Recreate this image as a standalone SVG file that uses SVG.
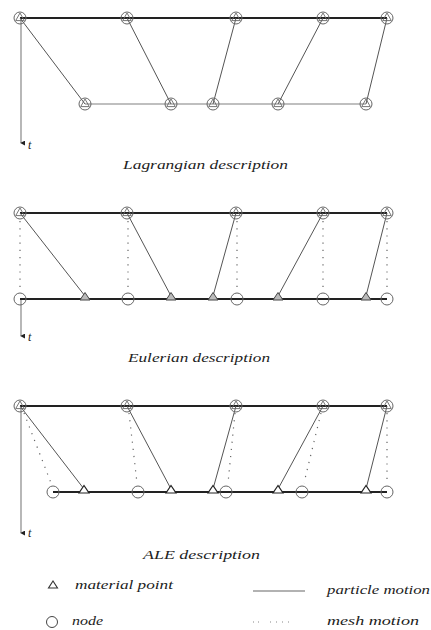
<svg xmlns="http://www.w3.org/2000/svg" width="431" height="630" viewBox="0 0 431 630">
<defs>
<style>
.bg{fill:#fff}
.top{stroke:#222;stroke-width:2;fill:none}
.botL{stroke:#aaa;stroke-width:1.6;fill:none}
.bot{stroke:#222;stroke-width:1.8;fill:none}
.pm{stroke:#555;stroke-width:1;fill:none}
.mm{stroke:#666;stroke-width:1.2;fill:none;stroke-dasharray:1.2 6}
.axis{stroke:#888;stroke-width:1.2;fill:none}
.nd{fill:none;stroke:#666;stroke-width:1}
.tri{fill:#fff;stroke:#222;stroke-width:1.2}
.trg{fill:#bbb;stroke:#444;stroke-width:1}
.lbl{font-family:"Liberation Serif",serif;font-style:italic;font-size:13px;fill:#222}
.t{font-family:"Liberation Serif",serif;font-style:italic;font-size:12px;fill:#222}
</style>
<marker id="ah" viewBox="0 0 6 6" refX="3" refY="5" markerWidth="5" markerHeight="5" orient="auto-start-reverse" markerUnits="userSpaceOnUse">
<path d="M0,0 L6,0 L3,6 z" fill="#222"/>
</marker>
<g id="cn">
<circle r="6" class="nd"/>
<path d="M0,-5 L4.3,2.6 L-4.3,2.6 z" fill="none" stroke="#666" stroke-width="0.9"/>
</g>
<path id="tr" d="M-5,1 L5,1 L0,-6.5 z"/>
</defs>
<rect class="bg" width="431" height="630"/>

<g id="connectors">
<!-- Lagrangian -->
<line class="axis" x1="21" y1="18" x2="21" y2="143" marker-end="url(#ah)"/>
<line class="top" x1="20" y1="18" x2="387" y2="18"/>
<line class="botL" x1="85" y1="104" x2="366" y2="104"/>
<line class="pm" x1="20" y1="18" x2="85" y2="104"/>
<line class="pm" x1="127" y1="18" x2="171" y2="104"/>
<line class="pm" x1="236" y1="18" x2="213" y2="104"/>
<line class="pm" x1="323" y1="18" x2="278" y2="104"/>
<line class="pm" x1="387" y1="18" x2="366" y2="104"/>

<!-- Eulerian -->
<line class="axis" x1="21" y1="299" x2="21" y2="336" marker-end="url(#ah)"/>
<line class="top" x1="20" y1="213" x2="387" y2="213"/>
<line class="bot" x1="20" y1="299" x2="387" y2="299"/>
<line class="mm" x1="20" y1="221" x2="20" y2="292"/>
<line class="mm" x1="128" y1="221" x2="128" y2="292"/>
<line class="mm" x1="237" y1="221" x2="237" y2="292"/>
<line class="mm" x1="323" y1="221" x2="323" y2="292"/>
<line class="mm" x1="387" y1="221" x2="387" y2="292"/>
<line class="pm" x1="20" y1="213" x2="85" y2="296"/>
<line class="pm" x1="127" y1="213" x2="171" y2="296"/>
<line class="pm" x1="236" y1="213" x2="213" y2="296"/>
<line class="pm" x1="323" y1="213" x2="278" y2="296"/>
<line class="pm" x1="387" y1="213" x2="366" y2="296"/>

<!-- ALE -->
<line class="axis" x1="21" y1="406" x2="21" y2="533" marker-end="url(#ah)"/>
<line class="top" x1="20" y1="406" x2="387" y2="406"/>
<line class="bot" x1="53" y1="492" x2="387" y2="492"/>
<line class="mm" x1="24" y1="413" x2="51" y2="483"/>
<line class="mm" x1="129" y1="413" x2="137" y2="483"/>
<line class="mm" x1="235" y1="413" x2="228" y2="483"/>
<line class="mm" x1="321" y1="413" x2="304" y2="483"/>
<line class="mm" x1="387" y1="413" x2="387" y2="483"/>
<line class="pm" x1="20" y1="406" x2="84" y2="489"/>
<line class="pm" x1="127" y1="406" x2="171" y2="489"/>
<line class="pm" x1="236" y1="406" x2="213" y2="489"/>
<line class="pm" x1="323" y1="406" x2="278" y2="489"/>
<line class="pm" x1="387" y1="406" x2="366" y2="489"/>

<!-- legend lines -->
<line x1="253" y1="591" x2="305" y2="591" stroke="#999" stroke-width="1.6"/>
<path d="M253,622h1M258,622h1M270,622h1M276,622h1M282,622h1M288,622h1" stroke="#888" stroke-width="1.2"/>
</g>

<g id="lag-top">
<use href="#cn" x="20" y="18"/><use href="#cn" x="127" y="18"/><use href="#cn" x="236" y="18"/><use href="#cn" x="323" y="18"/><use href="#cn" x="387" y="18"/>
</g>
<g id="lag-bottom">
<use href="#cn" x="85" y="104"/><use href="#cn" x="171" y="104"/><use href="#cn" x="213" y="104"/><use href="#cn" x="278" y="104"/><use href="#cn" x="366" y="104"/>
</g>

<g id="eul-top">
<use href="#cn" x="20" y="213"/><use href="#cn" x="127" y="213"/><use href="#cn" x="236" y="213"/><use href="#cn" x="323" y="213"/><use href="#cn" x="387" y="213"/>
</g>
<g id="eul-nodes">
<circle class="nd" cx="20" cy="299" r="6" stroke="#444"/>
<circle class="nd" cx="128" cy="299" r="6" stroke="#444"/>
<circle class="nd" cx="237" cy="299" r="6" stroke="#444"/>
<circle class="nd" cx="323" cy="299" r="6" stroke="#444"/>
<circle class="nd" cx="387" cy="299" r="6" stroke="#444"/>
</g>
<g id="eul-points">
<use href="#tr" class="trg" x="85" y="299"/><use href="#tr" class="trg" x="171" y="299"/><use href="#tr" class="trg" x="213" y="299"/><use href="#tr" class="trg" x="278" y="299"/><use href="#tr" class="trg" x="366" y="299"/>
</g>

<g id="ale-top">
<use href="#cn" x="20" y="406"/><use href="#cn" x="127" y="406"/><use href="#cn" x="236" y="406"/><use href="#cn" x="323" y="406"/><use href="#cn" x="387" y="406"/>
</g>
<g id="ale-nodes">
<circle class="nd" cx="53" cy="492" r="6" stroke="#444"/>
<circle class="nd" cx="138" cy="492" r="6" stroke="#444"/>
<circle class="nd" cx="226" cy="492" r="6" stroke="#444"/>
<circle class="nd" cx="302" cy="492" r="6" stroke="#444"/>
<circle class="nd" cx="387" cy="492" r="6" stroke="#444"/>
</g>
<g id="ale-points">
<use href="#tr" class="tri" x="84" y="492"/><use href="#tr" class="tri" x="171" y="492"/><use href="#tr" class="tri" x="213" y="492"/><use href="#tr" class="tri" x="278" y="492"/><use href="#tr" class="tri" x="366" y="492"/>
</g>

<g id="labels">
<text class="t" x="28" y="149">t</text>
<text class="lbl" x="123" y="169" textLength="165" lengthAdjust="spacingAndGlyphs">Lagrangian description</text>
<text class="t" x="28" y="341">t</text>
<text class="lbl" x="128" y="362" textLength="142" lengthAdjust="spacingAndGlyphs">Eulerian description</text>
<text class="t" x="28" y="537">t</text>
<text class="lbl" x="143" y="559" textLength="117" lengthAdjust="spacingAndGlyphs">ALE description</text>
</g>

<g id="legend-material">
<path d="M48.5,588 L57.5,588 L53,581 z" fill="#fff" stroke="#333" stroke-width="1.1"/>
<text class="lbl" x="75" y="589" textLength="98" lengthAdjust="spacingAndGlyphs">material point</text>
</g>
<g id="legend-node">
<circle cx="52" cy="622" r="5.5" fill="none" stroke="#444" stroke-width="1"/>
<text class="lbl" x="72" y="625" textLength="31" lengthAdjust="spacingAndGlyphs">node</text>
</g>
<g id="legend-particle">
<text class="lbl" x="327" y="594" textLength="103" lengthAdjust="spacingAndGlyphs">particle motion</text>
</g>
<g id="legend-mesh">
<text class="lbl" x="327" y="625" textLength="92" lengthAdjust="spacingAndGlyphs">mesh motion</text>
</g>
</svg>
